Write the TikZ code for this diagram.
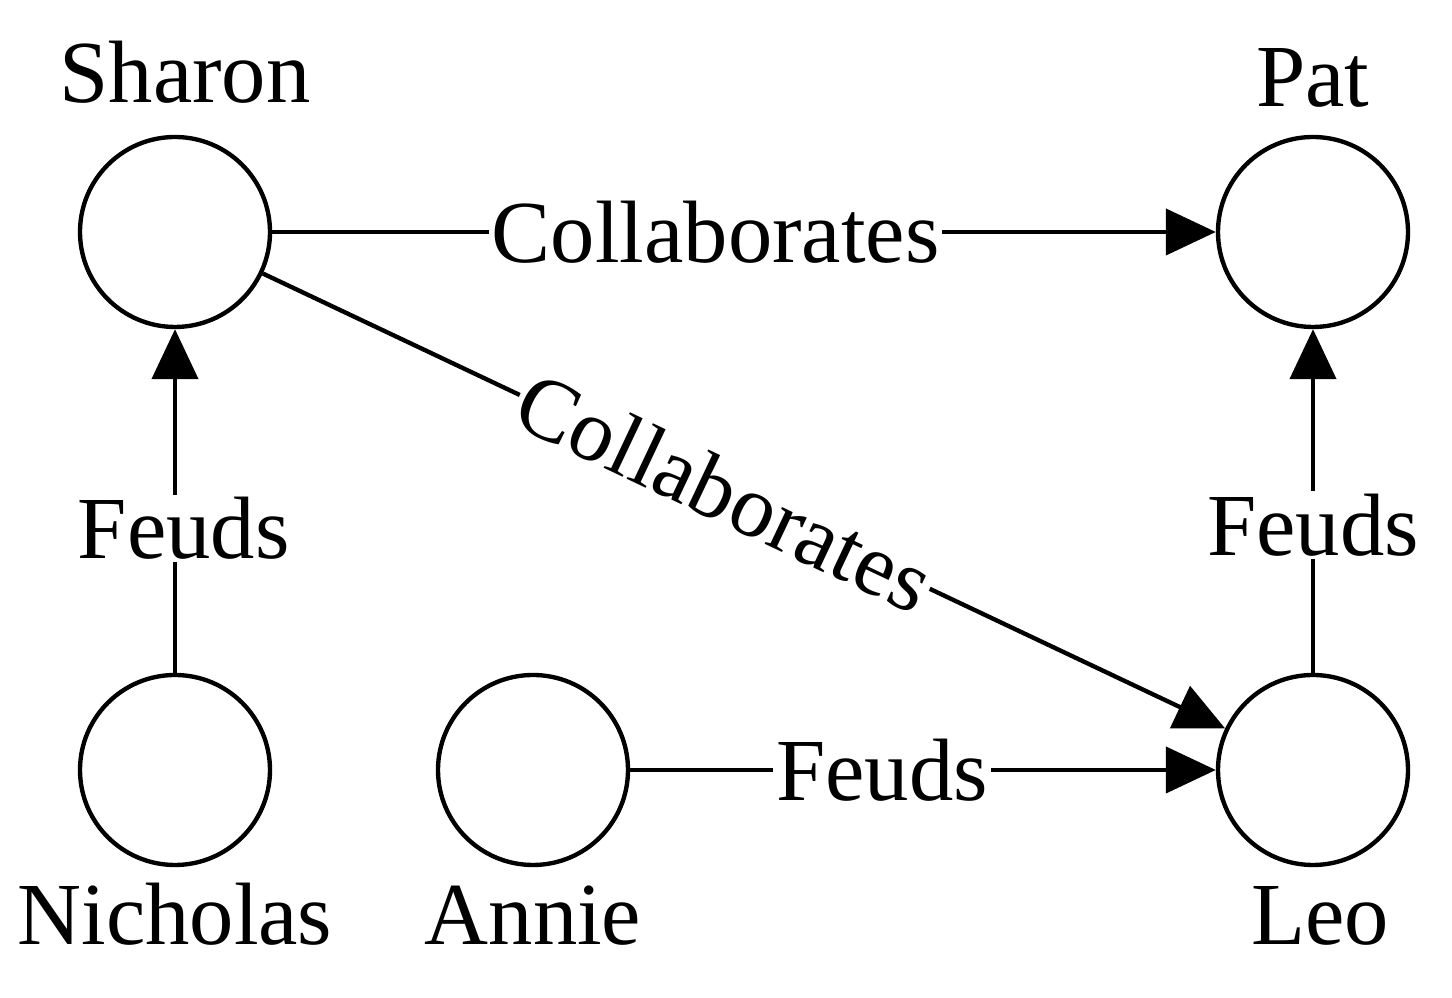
\documentclass[tikz,border=0pt]{standalone}
\usepackage{fontspec}
\setmainfont{Liberation Serif}
\usetikzlibrary{arrows.meta, positioning}
\tikzset{
  person/.style={circle, draw=black, line width=3.1pt, fill=white,
                 minimum size=4.75cm, inner sep=0pt},
  personname/.style={anchor=base, inner sep=0pt, font=\fontsize{63}{70}\selectfont},
  arrow/.style={-{Triangle[length=1.25cm, width=1.15cm]}, line width=3.1pt, draw=black},
  rel/.style={fill=white, inner sep=2pt, font=\fontsize{63}{70}\selectfont},
}
\begin{document}
\begin{tikzpicture}
  \useasboundingbox (0,0) rectangle (36.3,24.95);

  \node[person] (sharon) at (4.375,19.15) {};
  \node[person] (pat) at (32.825,19.15) {};
  \node[person] (nicholas) at (4.375,5.7) {};
  \node[person] (annie) at (13.325,5.7) {};
  \node[person] (leo) at (32.825,5.7) {};

  % Names
  \node[personname] (sharonname) at ([xshift=0.25cm, yshift=0.8cm]sharon.north) {Sharon};
  \node[personname] (patname) at ([yshift=0.72cm]pat.north) {Pat};
  \node[personname] (nicholasname) at ([yshift=-1.925cm]nicholas.south) {Nicholas};
  \node[personname] (anniename) at ([yshift=-1.925cm]annie.south) {Annie};
  \node[personname] (leoname) at ([xshift=0.18cm, yshift=-1.925cm]leo.south) {Leo};

  % Relations
  \draw[arrow] (sharon) -- node[rel, pos=0.47] {Collaborates} (pat);
  \draw[arrow] (sharon) -- node[rel, sloped, pos=0.48] {Collaborates} (leo);
  \draw[arrow] (nicholas) -- node[rel, pos=0.42, xshift=0.22cm] {Feuds} (sharon);
  \draw[arrow] (leo) -- node[rel, pos=0.43] {Feuds} (pat);
  \draw[arrow] (annie) -- node[rel, pos=0.43] {Feuds} (leo);
\end{tikzpicture}
\end{document}
